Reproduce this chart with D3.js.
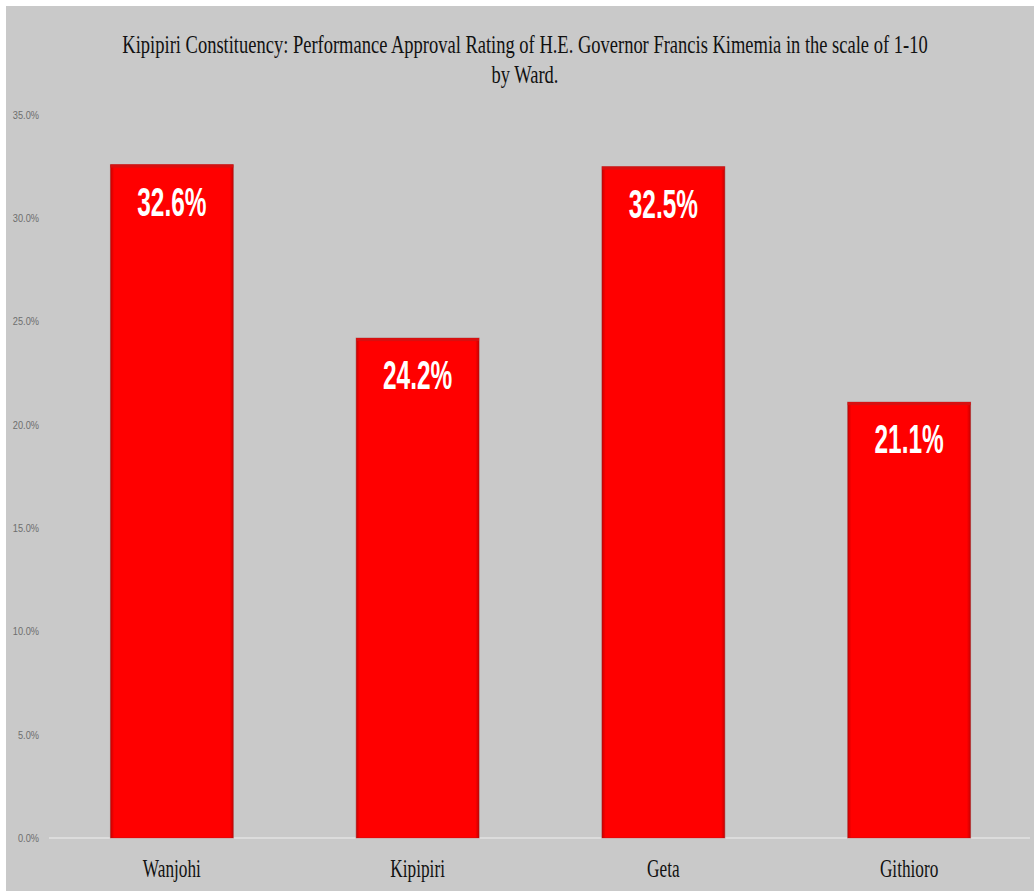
<!DOCTYPE html>
<html>
<head>
<meta charset="utf-8">
<script src="https://cdn.jsdelivr.net/npm/d3@7"></script>
<style>
  html, body { margin: 0; padding: 0; background: #ffffff; }
  svg { display: block; }
</style>
</head>
<body>
<svg id="chart" width="1034" height="891"></svg>
<script>
// ---- data ----
const titleLines = ["Kipipiri Constituency: Performance Approval Rating of H.E. Governor Francis Kimemia in the scale of 1-10", "by Ward."];
const wards = ["Wanjohi", "Kipipiri", "Geta", "Githioro"];
const approval = [32.6, 24.2, 32.5, 21.1];
const yTicks = [0, 5, 10, 15, 20, 25, 30, 35];

// ---- layout ----
const W = 1034, H = 891;
const svg = d3.select("#chart");

svg.append("rect").attr("x", 0).attr("y", 0).attr("width", W).attr("height", H).attr("fill", "#ffffff");
svg.append("rect").attr("x", 6).attr("y", 6).attr("width", W - 6).attr("height", H - 6).attr("fill", "#c9c9c9");

const x = d3.scaleBand().domain(wards).range([49, 1032]).paddingInner(0.5).paddingOuter(0.25);
const y = d3.scaleLinear().domain([0, 35]).range([838, 115]);

// y axis labels (condensed)
svg.append("g").selectAll("text")
  .data(yTicks)
  .join("text")
  .attr("transform", d => `translate(39,${y(d)}) scale(0.84,1)`)
  .attr("text-anchor", "end")
  .attr("dy", "0.35em")
  .attr("fill", "#6e6e6e")
  .style("font-family", "'Liberation Sans', Arial, sans-serif")
  .style("font-size", "11px")
  .text(d => d.toFixed(1) + "%");

// baseline
svg.append("line")
  .attr("x1", 49).attr("x2", 1030)
  .attr("y1", y(0)).attr("y2", y(0))
  .attr("stroke", "#e2e2e2").attr("stroke-width", 1.5);

const defs = svg.append("defs");
const grad = defs.append("linearGradient").attr("id", "barGrad").attr("x1", 0).attr("x2", 1).attr("y1", 0).attr("y2", 0);
grad.append("stop").attr("offset", "0%").attr("stop-color", "#c80000");
grad.append("stop").attr("offset", "3%").attr("stop-color", "#ff0000");
grad.append("stop").attr("offset", "97%").attr("stop-color", "#ff0000");
grad.append("stop").attr("offset", "100%").attr("stop-color", "#c80000");

const bars = svg.append("g");
bars.selectAll("rect.bar")
  .data(approval)
  .join("rect")
  .attr("class", "bar")
  .attr("x", (d, i) => x(wards[i]))
  .attr("y", d => y(d))
  .attr("width", x.bandwidth())
  .attr("height", d => y(0) - y(d))
  .attr("fill", "url(#barGrad)")
  .attr("stroke", "#9a1a1a")
  .attr("stroke-opacity", 0.45)
  .attr("stroke-width", 1);

bars.selectAll("rect.top")
  .data(approval)
  .join("rect")
  .attr("class", "top")
  .attr("x", (d, i) => x(wards[i]))
  .attr("y", d => y(d))
  .attr("width", x.bandwidth())
  .attr("height", 3)
  .attr("fill", "#d81010");

// value labels
const labelScale = 0.61;
svg.append("g").selectAll("text")
  .data(approval)
  .join("text")
  .attr("transform", (d, i) => `translate(${x(wards[i]) + x.bandwidth() / 2},${y(d) + 51}) scale(${labelScale},1)`)
  .attr("text-anchor", "middle")
  .attr("fill", "#ffffff")
  .style("font-family", "'Liberation Sans', Arial, sans-serif")
  .style("font-weight", "bold")
  .style("font-size", "40px")
  .text(d => d.toFixed(1) + "%");

// x labels
const serifScale = 0.69;
svg.append("g").selectAll("text")
  .data(wards)
  .join("text")
  .attr("transform", d => `translate(${x(d) + x.bandwidth() / 2},877) scale(${serifScale},1)`)
  .attr("text-anchor", "middle")
  .attr("fill", "#111111")
  .style("font-family", "'Liberation Serif', 'DejaVu Serif', serif")
  .style("font-size", "25px")
  .text(d => d);

// title, fitted to the reference width
const tg = svg.append("g");
const titleY = [53, 83];
const tNodes = titleLines.map((t, i) =>
  tg.append("text")
    .attr("text-anchor", "middle")
    .attr("fill", "#111111")
    .style("font-family", "'Liberation Serif', 'DejaVu Serif', serif")
    .style("font-size", "26px")
    .text(t));
const fit = 806 / tNodes[0].node().getComputedTextLength();
tNodes.forEach((n, i) => n.attr("transform", `translate(525,${titleY[i]}) scale(${fit},1)`));
</script>
</body>
</html>
